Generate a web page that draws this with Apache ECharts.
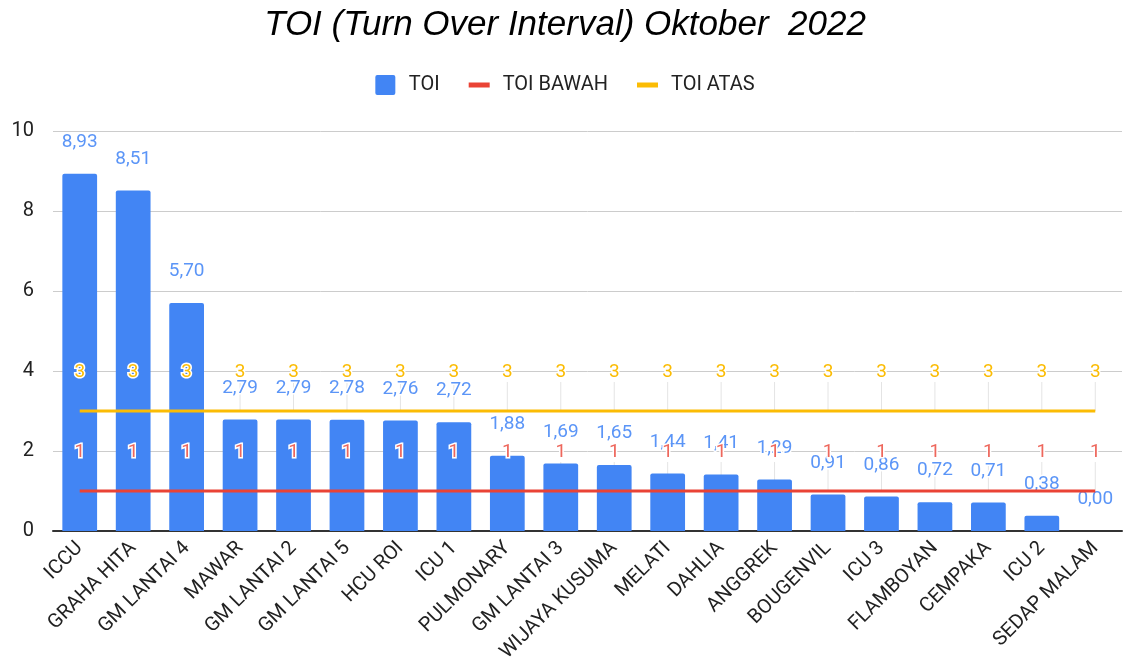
<!DOCTYPE html>
<html>
<head>
<meta charset="utf-8">
<script src="https://cdn.jsdelivr.net/npm/echarts@6/dist/echarts.min.js"></script>
<style>html,body{margin:0;padding:0;background:#fff}#c{width:1130px;height:670px}</style>
</head>
<body>
<div id="c"></div>
<script>
const categories = ['ICCU','GRAHA HITA','GM LANTAI 4','MAWAR','GM LANTAI 2','GM LANTAI 5','HCU ROI','ICU 1','PULMONARY','GM LANTAI 3','WIJAYA KUSUMA','MELATI','DAHLIA','ANGGREK','BOUGENVIL','ICU 3','FLAMBOYAN','CEMPAKA','ICU 2','SEDAP MALAM'];
const toi = [8.93,8.51,5.70,2.79,2.79,2.78,2.76,2.72,1.88,1.69,1.65,1.44,1.41,1.29,0.91,0.86,0.72,0.71,0.38,0.00];
const toiBawah = [1,1,1,1,1,1,1,1,1,1,1,1,1,1,1,1,1,1,1,1];
const toiAtas = [3,3,3,3,3,3,3,3,3,3,3,3,3,3,3,3,3,3,3,3];
const yTicks = [0,2,4,6,8,10];

const chart = echarts.init(document.getElementById('c'), null, {renderer:'canvas'});
const F = 'Roboto, "Liberation Sans", Arial, sans-serif';
const LABEL_RISE = 29;
const lineLabel = (color) => ({
  show: true, position: 'top', distance: LABEL_RISE, color: color, fontSize: 19, fontFamily: F,
  textBorderColor: '#fff', textBorderWidth: 3,
  formatter: p => String(p.value)
});
const guide = (vals) => ({
  type: 'custom', silent: true, z: 1,
  data: vals.map((v, i) => [i, v]),
  encode: {x: 0, y: 1},
  renderItem: (params, api) => {
    const p = api.coord([api.value(0), api.value(1)]);
    return {type: 'line', shape: {x1: p[0], y1: p[1], x2: p[0], y2: p[1] - LABEL_RISE}, style: {stroke: '#e4e4e4', lineWidth: 1}};
  }
});
chart.setOption({
  animation: false,
  title: {
    text: 'TOI (Turn Over Interval) Oktober  2022',
    left: 'center', top: 3,
    textStyle: {fontFamily: '"Liberation Sans", Arial, sans-serif', fontStyle: 'italic', fontWeight: 'normal', fontSize: 35, color: '#000'}
  },
  legend: {
    top: 70, left: 'center', itemWidth: 21, itemHeight: 20, itemGap: 29,
    textStyle: {fontFamily: F, fontSize: 20, color: '#222', padding: [0, 0, 0, 8]},
    data: [
      {name: 'TOI', icon: 'path://M2,0 H18 Q20,0 20,2 V18 Q20,20 18,20 H2 Q0,20 0,18 V2 Q0,0 2,0 Z'},
      {name: 'TOI BAWAH', icon: 'path://M0,0 H21 V5 H0 Z'},
      {name: 'TOI ATAS', icon: 'path://M0,0 H21 V5 H0 Z'}
    ]
  },
  grid: {left: 53, right: 8, top: 131, bottom: 139, containLabel: false},
  xAxis: {
    type: 'category', data: categories,
    axisLine: {lineStyle: {color: '#333', width: 2}},
    axisTick: {show: false},
    axisLabel: {interval: 0, rotate: 45, fontFamily: F, fontSize: 20, color: '#222', margin: 14, padding: [14, 0, 0, 0]}
  },
  yAxis: {
    type: 'value', min: yTicks[0], max: yTicks[yTicks.length-1], interval: 2,
    axisLine: {show: false}, axisTick: {show: false},
    axisLabel: {fontFamily: F, fontSize: 20, color: '#222', margin: 19},
    splitLine: {lineStyle: {color: '#cccccc', width: 1}}
  },
  series: [
    guide(toiAtas),
    guide(toiBawah),
    {
      name: 'TOI', type: 'bar', data: toi, barWidth: '65%',
      itemStyle: {color: '#4285F4', borderRadius: [2,2,0,0]},
      label: {
        show: true, position: 'top', distance: 22, color: '#5b95f7', fontSize: 19, fontFamily: F,
        textBorderColor: '#fff', textBorderWidth: 3,
        formatter: p => p.value.toFixed(2).replace('.', ',')
      },
      z: 2
    },
    {
      name: 'TOI BAWAH', type: 'line', data: toiBawah, symbol: 'circle', symbolSize: 0,
      lineStyle: {color: '#EA4335', width: 3}, itemStyle: {color: '#EA4335'},
      label: lineLabel('#ee675c'),
      z: 3
    },
    {
      name: 'TOI ATAS', type: 'line', data: toiAtas, symbol: 'circle', symbolSize: 0,
      lineStyle: {color: '#FBBC04', width: 3}, itemStyle: {color: '#FBBC04'},
      label: lineLabel('#fbbc04'),
      z: 4
    }
  ]
});
</script>
</body>
</html>
